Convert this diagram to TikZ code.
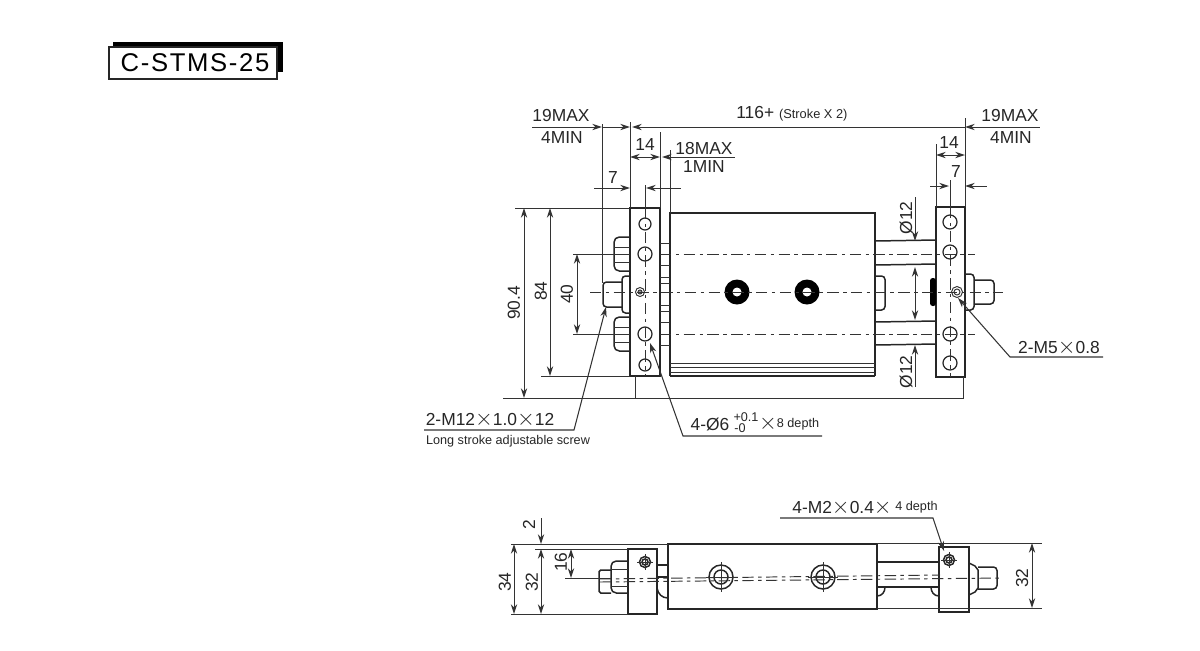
\documentclass[tikz,border=0pt]{standalone}
\usepackage{fontspec}
\setmainfont{Liberation Sans}
\usetikzlibrary{arrows.meta}
\newcommand{\bigx}{\scalebox{1.3}{$\times$}}
\tikzset{
  dimlabel/.style={inner sep=0pt,font=\fontsize{9.9}{11}\selectfont,text=black!85},
  smalllabel/.style={inner sep=0pt,font=\fontsize{7.2}{8}\selectfont,text=black!85},
  outline/.style={line width=0.85pt,black!85},
  dimline/.style={line width=0.55pt,black!80},
  leader/.style={line width=0.6pt,black!80},
  centerline/.style={line width=0.55pt,black!80,dash pattern=on 6.5pt off 2.5pt on 2pt off 2.5pt},
  >={Stealth[length=5.6pt,width=3.6pt]}
}
\begin{document}
\begin{tikzpicture}[x=0.02cm,y=-0.02cm]
  \useasboundingbox (0,0) rectangle (1200,650);
  % title box
  \fill[black] (113,42) rectangle (283,72);
  \draw[outline,fill=white] (109,47) rectangle (277,79);
  \node[inner sep=0pt,font=\fontsize{14.6}{16}\selectfont\addfontfeature{LetterSpace=6.5}] (title) at (195,62.5) {C-STMS-25};

  % front view: plates and body
  \draw[outline] (630,208) rectangle (660,376);
  \draw[outline] (936,207) rectangle (965,377);
  \draw[outline] (670,376)--(670,213)--(875,213)--(875,376);
  \draw[line width=1.2pt,black!85] (670,376)--(875,376);
  \foreach \y in {363,367,372} \draw[dimline] (670,\y)--(875,\y);
  \foreach \y in {243,265,277,283,305,311,322,345} \draw[dimline] (660,\y)--(670,\y);
  % rods
  \draw[outline] (875,241)--(936,240);
  \draw[outline] (875,265)--(936,264);
  \draw[outline] (875,322)--(936,321);
  \draw[outline] (875,345)--(936,344);
  % left screws
  \draw[outline,rounded corners=3pt] (630,237)--(614,237)--(614,271)--(630,271);
  \draw[outline,rounded corners=3pt] (630,317)--(614,317)--(614,351)--(630,351);
  \foreach \y in {247,262,327,342} \draw[dimline] (614,\y)--(630,\y);
  \draw[outline,rounded corners=2pt] (630,276)--(622,276)--(622,313)--(630,313);
  \draw[outline,rounded corners=2pt] (622,282)--(603,282)--(603,307)--(622,307);
  % right side fittings
  \draw[outline,rounded corners=2pt] (875,276)--(885,276)--(885,310)--(875,310);
  \fill[black,rounded corners=1.5pt] (936,278)--(930,278)--(930,306)--(936,306)--cycle;
  \draw[outline,rounded corners=2pt] (965,274)--(974,274)--(974,310)--(965,310);
  \draw[outline,rounded corners=2pt] (974,280)--(994,280)--(994,304)--(974,304);
  % holes
  \foreach \y/\r in {224/6,254/7,334/7,365/6} \draw[outline,line width=0.7pt] (645,\y) circle (\r);
  \foreach \y/\r in {222/7,252/7,334/7,363/7} \draw[outline,line width=0.7pt] (950,\y) circle (\r);
  \draw[dimline] (640,292) circle (4.5);
  \draw[dimline,fill=black!40] (640,292) circle (2);
  \draw[dimline] (957,292) circle (5.5);
  \draw[dimline] (957,292) circle (3);
  % ports
  \foreach \x in {737,807} {
    \fill[black] (\x,292) circle (12.5);
    \fill[white] (\x,292) circle (4.5);
  }
  % center lines
  \draw[centerline] (660,254)--(975,254);
  \draw[centerline] (660,334)--(975,334);
  \draw[centerline] (590,292)--(1003,292);
  \draw[centerline] (645,208)--(645,376);
  \draw[centerline] (950,207)--(950,377);

  % extension lines, top
  \draw[dimline] (602,124)--(602,283);
  \draw[dimline] (630,122)--(630,208);
  \draw[dimline] (660,132)--(660,208);
  \draw[dimline] (670,150)--(670,213);
  \draw[dimline] (645,185)--(645,208);
  \draw[dimline] (936,144)--(936,207);
  \draw[dimline] (965,118)--(965,207);
  \draw[dimline] (950,180)--(950,207);
  % top dimensions
  \draw[dimline,->] (532,127)--(602,127);
  \draw[dimline,->] (602,127)--(630,127);
  \draw[dimline,<-] (632,127)--(965,127);
  \draw[dimline,<-] (965,127)--(1040,127);
  \draw[dimline,<->] (630,157)--(660,157);
  \draw[dimline,<-] (662,157)--(735,157);
  \draw[dimline,->] (594,188)--(630,188);
  \draw[dimline,<-] (646,188)--(681,188);
  \draw[dimline,<->] (936,155)--(965,155);
  \draw[dimline,->] (930,186)--(949,186);
  \draw[dimline,<-] (965,186)--(987,186);
  \node[dimlabel] (lmax) at (561,116) {19MAX};
  \node[dimlabel] (lmin) at (562,138) {4MIN};
  \node[dimlabel,anchor=west] (stroke) at (736,114) {116+ {\fontsize{7.3}{8}\selectfont(Stroke X 2)}};
  \node[dimlabel] (lfourteen) at (645,145) {14};
  \node[dimlabel] (stopmax) at (704,149) {18MAX};
  \node[dimlabel] (stopmin) at (704,167) {1MIN};
  \node[dimlabel] (lseven) at (613,178) {7};
  \node[dimlabel] (rmax) at (1010,116) {19MAX};
  \node[dimlabel] (rmin) at (1011,138) {4MIN};
  \node[dimlabel] (rfourteen) at (949,143) {14};
  \node[dimlabel] (rseven) at (956,172) {7};

  % left dimensions
  \draw[dimline] (515,208)--(630,208);
  \draw[dimline] (541,376)--(630,376);
  \draw[dimline] (503,398)--(963,398)--(963,377);
  \draw[dimline] (635,376)--(635,398);
  \draw[dimline] (573,254)--(630,254);
  \draw[dimline] (573,334)--(630,334);
  \draw[dimline,<->] (524,208)--(524,398);
  \draw[dimline,<->] (550,208)--(550,376);
  \draw[dimline,<->] (577,254)--(577,334);
  \node[dimlabel,rotate=90] (width) at (514,303) {90.4};
  \node[dimlabel,rotate=90] (plate) at (541,291) {84};
  \node[dimlabel,rotate=90] (pitch) at (567,294) {40};
  % rod diameters
  \draw[dimline,->] (915,197)--(915,241);
  \draw[dimline,<->] (915,267)--(915,320);
  \draw[dimline,<-] (915,345)--(915,387);
  \node[dimlabel,rotate=90] (rodtop) at (906,218) {Ø12};
  \node[dimlabel,rotate=90] (rodbot) at (906,372) {Ø12};

  % leaders, front view
  \coordinate (mfivetip) at (958,298);
  \coordinate (mfivebend) at (1010,357);
  \coordinate (mfiveend) at (1103,357);
  \draw[leader,<-] (mfivetip)--(mfivebend)--(mfiveend);
  \node[dimlabel] (mfive) at (1059,348) {2-M5\bigx 0.8};
  \coordinate (screwtip) at (606,307);
  \coordinate (screwbend) at (574,430);
  \coordinate (screwend) at (424,430);
  \draw[leader,<-] (screwtip)--(screwbend)--(screwend);
  \node[dimlabel] (screw) at (490,420) {2-M12\bigx 1.0\bigx 12};
  \node[smalllabel] (screwnote) at (508,441) {Long stroke adjustable screw};
  \coordinate (holetip) at (650,343);
  \coordinate (holebend) at (683,436);
  \coordinate (holeend) at (822,436);
  \draw[leader,<-] (holetip)--(holebend)--(holeend);
  \node[dimlabel] (hole) at (710,424) {4-Ø6};
  \node[smalllabel] (holeup) at (746,417) {+0.1};
  \node[smalllabel] (holedown) at (740,428) {-0};
  \node[dimlabel] (holex) at (768,424) {\bigx};
  \node[smalllabel] (holedepth) at (798,424) {8 depth};

  % side view: body and blocks
  \draw[outline] (668,544) rectangle (877,609);
  \draw[outline] (628,549) rectangle (657,614);
  \draw[outline] (939,547) rectangle (969,612);
  \draw[outline] (657,565)--(668,565);
  \draw[outline] (657,577)--(668,577);
  \draw[outline] (657,588) .. controls (658,594) and (662,598) .. (668,598);
  \draw[outline] (877,562)--(939,562);
  \draw[outline] (877,587)--(939,587);
  \draw[outline] (877,596) .. controls (882,596) and (885,592) .. (885,587);
  \draw[outline] (939,596) .. controls (934,596) and (931,592) .. (931,587);
  % side view: screws
  \draw[outline,rounded corners=3pt] (628,561)--(611,561)--(611,593)--(628,593);
  \foreach \y in {569,586} \draw[dimline] (611,\y)--(628,\y);
  \draw[outline,rounded corners=1pt] (611,570)--(599,570)--(599,593)--(611,593);
  \draw[outline] (969,563)--(975,566)--(978,570)--(978,588)--(975,592)--(969,595);
  \draw[outline,rounded corners=2pt] (978,567)--(997,567)--(997,589)--(978,589);
  % side view: ports and tapped holes
  \foreach \x in {721,823} {
    \draw[outline] (\x,577) circle (12);
    \draw[outline] (\x,577) circle (7);
    \draw[dimline] (\x,562)--(\x,592);
    \draw[dimline] (\x-15,577)--(\x+15,577);
  }
  \foreach \x/\y in {645/562,949/560} {
    \draw[outline] (\x,\y) circle (5.5);
    \draw[outline] (\x,\y) circle (3);
    \draw[dimline] (\x,\y-8)--(\x,\y+8);
    \draw[dimline] (\x-8,\y)--(\x+8,\y);
  }
  \draw[centerline] (600,579)--(940,575);
  \draw[centerline] (600,582)--(1003,578);

  % side view: dimensions
  \draw[dimline] (511,544)--(668,544);
  \draw[dimline] (877,543)--(1042,543);
  \draw[dimline] (877,608)--(1042,608);
  \draw[dimline] (511,614)--(628,614);
  \draw[dimline] (535,549)--(628,549);
  \draw[dimline] (565,578)--(611,578);
  \draw[dimline,<->] (514,544)--(514,614);
  \draw[dimline,<->] (541,549)--(541,614);
  \draw[dimline,->] (541,518)--(541,544);
  \draw[dimline,<->] (571,549)--(571,578);
  \draw[dimline,<->] (1032,543)--(1032,608);
  \node[dimlabel,rotate=90] (sidetotal) at (505,582) {34};
  \node[dimlabel,rotate=90] (sideleft) at (532,582) {32};
  \node[dimlabel,rotate=90] (sidegap) at (529,525) {2};
  \node[dimlabel,rotate=90] (sidehalf) at (561,562) {16};
  \node[dimlabel,rotate=90] (sideright) at (1022,578) {32};
  \coordinate (mtwotip) at (944,551);
  \coordinate (mtwobend) at (933,518);
  \coordinate (mtwoend) at (780,518);
  \draw[leader,<-] (mtwotip)--(mtwobend)--(mtwoend);
  \node[dimlabel,anchor=west] (mtwo) at (792,508) {4-M2\bigx 0.4\bigx};
  \node[smalllabel,anchor=west] (mtwodepth) at (895,507) {4 depth};
\end{tikzpicture}
\end{document}
